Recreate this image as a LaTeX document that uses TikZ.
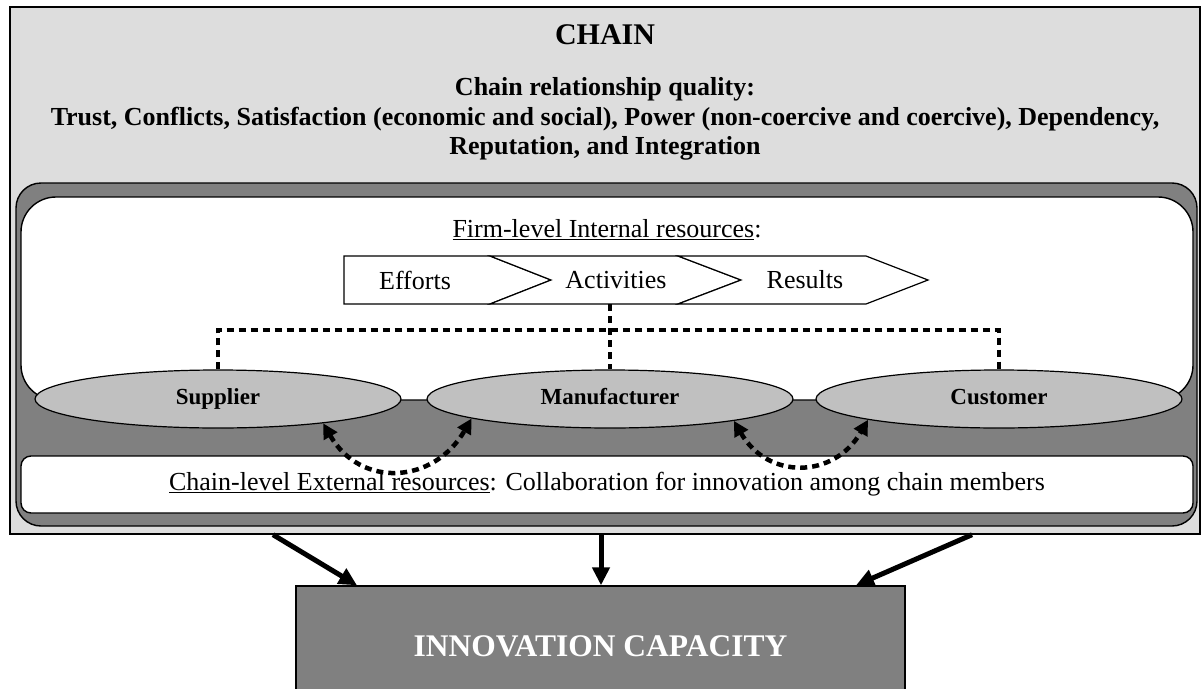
\documentclass[tikz,border=0pt]{standalone}
\usepackage{fontspec}
\setmainfont{Liberation Serif}
\usetikzlibrary{shapes.geometric,arrows.meta}
\definecolor{chainfill}{HTML}{DDDDDD}
\definecolor{darkfill}{HTML}{808080}
\definecolor{memberfill}{HTML}{C0C0C0}
\begin{document}
\begin{tikzpicture}[x=1pt,y=1pt,
    box/.style={draw,line width=1.4pt,inner sep=0pt},
    member/.style={ellipse,draw,line width=1.2pt,fill=memberfill,
      minimum width=366pt,minimum height=58pt,inner sep=0pt,
      text height=16pt,text depth=5pt,
      font=\fontsize{23}{27}\selectfont\bfseries},
    chevron/.style={draw,line width=1.2pt,fill=white},
    plain/.style={font=\fontsize{26}{31}\selectfont},
    dotline/.style={line width=4.5pt,dash pattern=on 7pt off 5pt},
    dotarrow/.style={dotline,{Triangle[length=15pt,width=15pt]}-{Triangle[length=15pt,width=15pt]}},
    bigarrow/.style={line width=5pt,-{Triangle[length=18pt,width=17pt]}}]
  \useasboundingbox (0,0) rectangle (1201,-688);
  % chain level
  \node[box,fill=chainfill,minimum width=1190pt,minimum height=527pt] (chainbox) at (605,-270.5) {};
  \node[font=\fontsize{30}{35}\selectfont\bfseries] (title) at (605,-35) {CHAIN};
  \node[align=center,font=\fontsize{26}{29.5}\selectfont\bfseries] (quality) at (605,-119)
    {Chain relationship quality:\\
     Trust, Conflicts, Satisfaction (economic and social), Power (non-coercive and coercive), Dependency,\\
     Reputation, and Integration};
  \node[box,fill=darkfill,rounded corners=25pt,minimum width=1181pt,minimum height=343pt] (darkbox) at (606.5,-354.5) {};
  \node[box,fill=white,rounded corners=35pt,minimum width=1172pt,minimum height=203pt] (firmbox) at (607,-298.5) {};
  \node[plain] (firm) at (607,-230) {\underline{Firm-level Internal resources}:};
  \node[box,fill=white,rounded corners=10pt,minimum width=1172pt,minimum height=57pt,plain] (extbox) at (607,-484.5)
    {\underline{Chain-level External resources}: Collaboration for innovation among chain members};
  % efforts, activities, results
  \draw[chevron] (344,-256) -- (490,-256) -- (551,-280) -- (490,-304) -- (344,-304) -- cycle;
  \draw[chevron] (490,-256) -- (678,-256) -- (741,-280) -- (678,-304) -- (490,-304) -- (551,-280) -- cycle;
  \draw[chevron] (678,-256) -- (866,-256) -- (928,-280) -- (866,-304) -- (678,-304) -- (741,-280) -- cycle;
  \node[plain] (eff) at (415,-280) {Efforts};
  \node[plain] (act) at (616,-280) {Activities};
  \node[plain] (res) at (805,-280) {Results};
  \coordinate (actbot) at (610,-304);
  \coordinate (hub) at (610,-330);
  % chain members
  \node[member] (sup) at (218,-399) {Supplier};
  \node[member] (man) at (610,-399) {Manufacturer};
  \node[member] (cus) at (999,-399) {Customer};
  \draw[dotline] (actbot) -- (man.north);
  \draw[dotline] (sup.north) |- (hub) -| (cus.north);
  \draw[dotarrow] (sup.-13) to[out=-60,in=-120,looseness=1.3] (man.-172);
  \draw[dotarrow] (man.-10) to[out=-60,in=-120,looseness=1.3] (cus.-171);
  % outcome
  \node[box,fill=darkfill,minimum width=609pt,minimum height=120pt,text=white,
    font=\fontsize{31.5}{37}\selectfont\bfseries] (inno) at (600.5,-646) {INNOVATION CAPACITY};
  \draw[bigarrow] ([xshift=-332pt]chainbox.south) -- ([xshift=-243.5pt]inno.north);
  \draw[bigarrow] ([xshift=-4pt]chainbox.south) -- ([xshift=0.5pt]inno.north);
  \draw[bigarrow] ([xshift=367pt]chainbox.south) -- ([xshift=255.5pt]inno.north);
\end{tikzpicture}
\end{document}
